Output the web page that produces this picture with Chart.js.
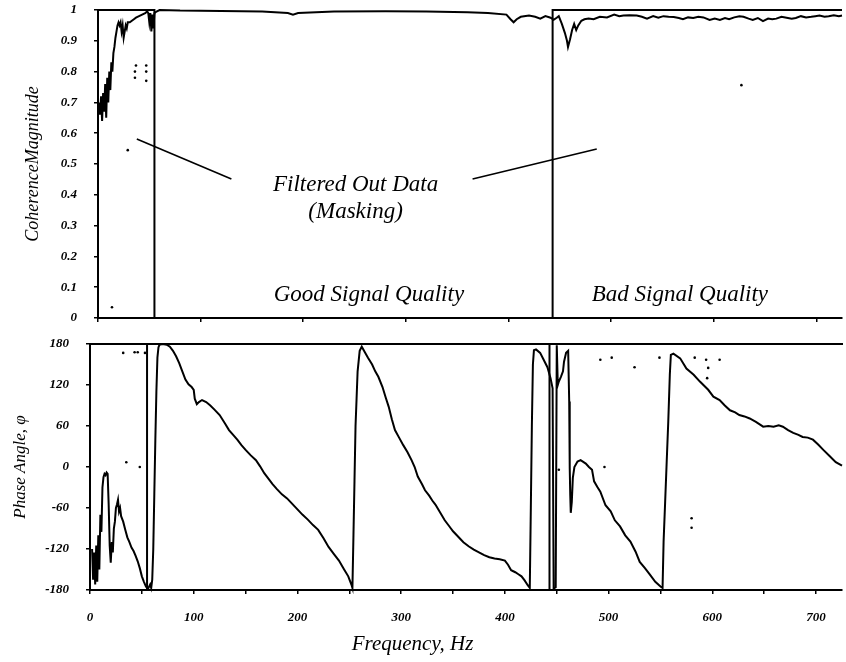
<!DOCTYPE html>
<html><head><meta charset="utf-8">
<script src="https://cdn.jsdelivr.net/npm/chart.js@4.4.0/dist/chart.umd.min.js"></script>
<style>
html,body{margin:0;padding:0;background:#fff;}
#wrap{position:relative;width:846px;height:662px;overflow:hidden;background:#fff;}
#c1{position:absolute;left:0;top:0;}
#c2{position:absolute;left:0;top:330px;}
</style></head><body>
<div id="wrap"><canvas id="c1" width="846" height="330"></canvas><canvas id="c2" width="846" height="332"></canvas></div>
<script>
// ---- data ----
const freqMin = 0;
const freqMax = 725;

const cohFreq = [1,2,3,4,5,6,7,8,9,10,11,12,13,14,15,16,17,18,19,20,21,22,23,24,25,26,27,28,29,31,33,35,37,40,43,46,48,49,50,51,52,53,54,55,57,60,80,120,160,185,190,195,230,280,320,360,380,398,402,405,408,412,420,426,431,436,441,444,447,449,452,455,457,458,460,462,464,466,468,471,474,478,483,489,496,503,508,512,518,525,530,535,541,546,551,556,561,566,570,575,580,585,590,596,601,606,611,615,620,625,629,634,638,643,648,653,657,661,666,671,676,680,685,690,695,699,703,708,712,717,722,725];
const cohValue = [0.70,0.66,0.72,0.64,0.73,0.67,0.76,0.65,0.78,0.70,0.80,0.74,0.83,0.80,0.86,0.88,0.91,0.93,0.95,0.96,0.95,0.96,0.93,0.95,0.91,0.93,0.95,0.94,0.96,0.96,0.965,0.97,0.975,0.98,0.985,0.99,0.995,0.99,0.96,0.99,0.93,0.985,0.94,0.99,0.995,1.0,0.998,0.997,0.995,0.99,0.985,0.99,0.995,0.996,0.995,0.993,0.99,0.985,0.97,0.96,0.97,0.978,0.982,0.978,0.972,0.98,0.975,0.968,0.975,0.98,0.955,0.925,0.90,0.88,0.905,0.935,0.955,0.935,0.95,0.965,0.97,0.972,0.97,0.978,0.976,0.985,0.98,0.982,0.983,0.982,0.978,0.972,0.98,0.975,0.98,0.978,0.977,0.974,0.97,0.976,0.974,0.978,0.976,0.968,0.972,0.968,0.974,0.97,0.976,0.98,0.978,0.972,0.968,0.974,0.964,0.972,0.97,0.972,0.978,0.975,0.972,0.974,0.98,0.976,0.978,0.98,0.982,0.978,0.98,0.983,0.98,0.982];

const cohMaskFreq = [0,55,55,443,443,725];
const cohMaskValue = [1,1,0,0,1,1];

const cohStrayFreq = [13.6,29,36,36,37,47,47,47,627];
const cohStrayValue = [0.035,0.545,0.80,0.78,0.82,0.80,0.77,0.82,0.756];

const phaseFreq = [2,3,4,5,6,7,8,9,10,11,12,13,14,15,16,17,18,19,20,21,22,23,24,25,26,27,28,29,30,32,34,36,38,40,42,44,46,48,50,52,54,56,58,59,60,61,62,63,64,65,66,67,70,74,77,80,83,86,89,92,95,98,100,101,103,105,108,112,116,120,125,130,134,138,142,146,150,155,160,164,168,172,176,180,185,190,195,200,205,210,215,220,225,230,235,240,245,249,252,253,254,255,256,257,258,260,262,265,268,272,275,278,282,285,288,291,294,298,302,306,310,313,316,320,323,327,330,333,337,342,346,350,355,360,365,370,375,380,385,390,395,400,403,406,410,413,416,419,422,424,425,426,427,428,430,434,437,441,444,446,447,449,450,451,452,454,456,457,459,461,462,462.5,463,463.5,464.5,465.5,467,470,473,478,481,484,486,489,492,497,502,506,511,516,521,526,530,535,540,545,550,552,553,554.5,556,557.5,559,560,562.5,569,575,582,588,596,601,607,612,617,622,626,631,636,642,649,654,659,664,668,673,678,683,687,692,697,702,707,713,719,725];
const phaseValue = [-120,-165,-125,-172,-115,-168,-100,-150,-70,-95,-30,-15,-10,-12,-8,-10,-55,-115,-140,-110,-125,-90,-80,-60,-55,-48,-65,-60,-72,-80,-92,-103,-110,-118,-123,-130,-138,-148,-160,-168,-175,-178,-172,-177,-165,-120,-40,40,110,160,175,179,180,179,176,170,162,152,140,128,121,117,113,100,92,95,98,95,90,84,76,64,54,47,40,32,25,17,10,1,-9,-17,-25,-32,-40,-46,-54,-62,-70,-77,-85,-92,-104,-117,-127,-137,-150,-160,-172,-177,-100,-20,60,100,140,170,176,168,160,150,140,132,117,102,88,70,54,43,32,22,10,0,-14,-25,-34,-42,-49,-55,-65,-78,-86,-94,-102,-110,-116,-121,-125,-129,-132,-134,-135,-137,-143,-151,-154,-157,-160,-166,-173,-177,-60,60,150,171,172,167,158,146,130,115,-178,-176,178,120,125,132,140,154,167,170,96,-1,-41,-67,-51,-16,0,8,10,5,0,-4,-21,-29,-36,-56,-65,-78,-87,-100,-109,-124,-139,-148,-158,-168,-175,-177,-109,-51,8,66,135,164,166,159,144,135,125,113,103,98,90,83,80,76,74,71,66,59,60,59,61,59,54,50,47,44,43,40,33,25,16,7,2];

const phaseMaskFreq = [0,55,55,443,443,725];
const phaseMaskValue = [180,180,-180,-180,180,180];

const phaseStrayFreq = [32,43,46,53,35,48,452,492,503,525,549,583,594,595,596,607,580,580,496];
const phaseStrayValue = [167,168,168,167,7,0,-4,157,160,146,160,160,157,130,145,157,-75,-89,0];

const cohTicks = [0,0.1,0.2,0.3,0.4,0.5,0.6,0.7,0.8,0.9,1];
const phaseTicks = [-180,-120,-60,0,60,120,180];

const noteText = ['Filtered Out Data','(Masking)','Good Signal Quality','Bad Signal Quality'];
const noteFreq = [251,251,264,567];
const noteValue = [0.432,0.344,0.075,0.075];
const leaderFromFreq = [37.8,365];
const leaderFromValue = [0.581,0.451];
const leaderToFreq = [130,486];
const leaderToValue = [0.451,0.549];

const xTitleText = 'Frequency, Hz';
const xTitleFreq = 311;

// ---- helpers ----
const pts = (xs, ys) => xs.map((x, i) => ({x: x, y: ys[i]}));
const tickFont = {family: '"Liberation Serif", serif', size: 13, style: 'italic', weight: 'bold'};
const titleFont = {family: '"Liberation Serif", serif', size: 18, style: 'italic'};
const axisGrid = {display: true, drawOnChartArea: false, drawTicks: true, tickLength: 4, color: '#000', lineWidth: 1.5};
const axisBorder = {display: true, color: '#000', width: 2};
const noPad = s => { s.paddingTop = 0; s.paddingBottom = 0; s.paddingLeft = 0; s.paddingRight = 0; };

const notePlugin = {
  id: 'notes',
  afterDatasetsDraw(chart) {
    const {ctx} = chart;
    const x = chart.scales.x, y = chart.scales.y;
    ctx.save();
    ctx.strokeStyle = '#000';
    ctx.lineWidth = 1.6;
    for (let i = 0; i < leaderFromFreq.length; i++) {
      ctx.beginPath();
      ctx.moveTo(x.getPixelForValue(leaderFromFreq[i]), y.getPixelForValue(leaderFromValue[i]));
      ctx.lineTo(x.getPixelForValue(leaderToFreq[i]), y.getPixelForValue(leaderToValue[i]));
      ctx.stroke();
    }
    ctx.fillStyle = '#000';
    ctx.font = 'italic 23px "Liberation Serif", serif';
    ctx.textAlign = 'center';
    ctx.textBaseline = 'middle';
    noteText.forEach((t, i) => ctx.fillText(t, x.getPixelForValue(noteFreq[i]), y.getPixelForValue(noteValue[i])));
    ctx.restore();
  }
};

const xTitlePlugin = {
  id: 'xtitle',
  afterDraw(chart) {
    const {ctx} = chart;
    const x = chart.scales.x;
    ctx.save();
    ctx.fillStyle = '#000';
    ctx.font = 'italic 21px "Liberation Serif", serif';
    ctx.textAlign = 'center';
    ctx.textBaseline = 'middle';
    ctx.fillText(xTitleText, x.getPixelForValue(xTitleFreq), x.bottom - 18);
    ctx.restore();
  }
};

Chart.defaults.color = '#000';
Chart.defaults.animation = false;

new Chart(document.getElementById('c1'), {
  type: 'scatter',
  data: {
    datasets: [
      {data: pts(cohFreq, cohValue), showLine: true, borderColor: '#000', borderWidth: 2, pointRadius: 0, tension: 0, clip: 4},
      {data: pts(cohMaskFreq, cohMaskValue), showLine: true, borderColor: '#000', borderWidth: 2, pointRadius: 0, tension: 0, clip: 4},
      {data: pts(cohStrayFreq, cohStrayValue), showLine: false, backgroundColor: '#000', borderColor: '#000', pointRadius: 1.3, borderWidth: 0}
    ]
  },
  options: {
    responsive: false,
    animation: false,
    devicePixelRatio: 1,
    layout: {padding: {top: 10, right: 0, left: 0, bottom: 0}},
    plugins: {legend: {display: false}, tooltip: {enabled: false}},
    scales: {
      x: {
        type: 'linear', min: freqMin, max: freqMax, position: 'bottom',
        ticks: {display: false, stepSize: 100, includeBounds: false},
        grid: axisGrid, border: axisBorder,
        afterFit: s => { s.height = 12; noPad(s); }
      },
      y: {
        type: 'linear', min: 0, max: 1,
        afterBuildTicks: s => { s.ticks = cohTicks.map(v => ({value: v})); },
        ticks: {font: tickFont, color: '#000', padding: 17, callback: v => String(v)},
        grid: axisGrid, border: axisBorder,
        title: {display: true, text: 'CoherenceMagnitude', font: titleFont, color: '#000', padding: {top: 22, bottom: 0}},
        afterFit: s => { s.width = 98; noPad(s); }
      }
    }
  },
  plugins: [notePlugin]
});

new Chart(document.getElementById('c2'), {
  type: 'scatter',
  data: {
    datasets: [
      {data: pts(phaseFreq, phaseValue), showLine: true, borderColor: '#000', borderWidth: 2, pointRadius: 0, tension: 0, clip: 4},
      {data: pts(phaseMaskFreq, phaseMaskValue), showLine: true, borderColor: '#000', borderWidth: 2, pointRadius: 0, tension: 0, clip: 4},
      {data: pts(phaseStrayFreq, phaseStrayValue), showLine: false, backgroundColor: '#000', borderColor: '#000', pointRadius: 1.3, borderWidth: 0}
    ]
  },
  options: {
    responsive: false,
    animation: false,
    devicePixelRatio: 1,
    layout: {padding: {top: 14, right: 0, left: 0, bottom: 0}},
    plugins: {legend: {display: false}, tooltip: {enabled: false}},
    scales: {
      x: {
        type: 'linear', min: freqMin, max: freqMax, position: 'bottom',
        ticks: {stepSize: 50, includeBounds: false, autoSkip: false, maxRotation: 0, font: tickFont, color: '#000', padding: 16,
          callback: v => (v % 100 === 0 ? String(v) : '')},
        grid: axisGrid, border: axisBorder,
        afterFit: s => { s.height = 72; noPad(s); }
      },
      x2: {
        type: 'linear', min: freqMin, max: freqMax, position: 'top',
        ticks: {display: false}, grid: {display: false, drawTicks: false},
        border: axisBorder,
        afterFit: s => { s.height = 0; noPad(s); }
      },
      y: {
        type: 'linear', min: -180, max: 180,
        afterBuildTicks: s => { s.ticks = phaseTicks.map(v => ({value: v})); },
        ticks: {font: tickFont, color: '#000', padding: 17},
        grid: axisGrid, border: axisBorder,
        title: {display: true, text: 'Phase Angle, φ', font: {family: '"Liberation Serif", serif', size: 17, style: 'italic'}, color: '#000', padding: {top: 10, bottom: 0}},
        afterFit: s => { s.width = 90; noPad(s); }
      }
    }
  },
  plugins: [xTitlePlugin]
});
</script>
</body></html>
